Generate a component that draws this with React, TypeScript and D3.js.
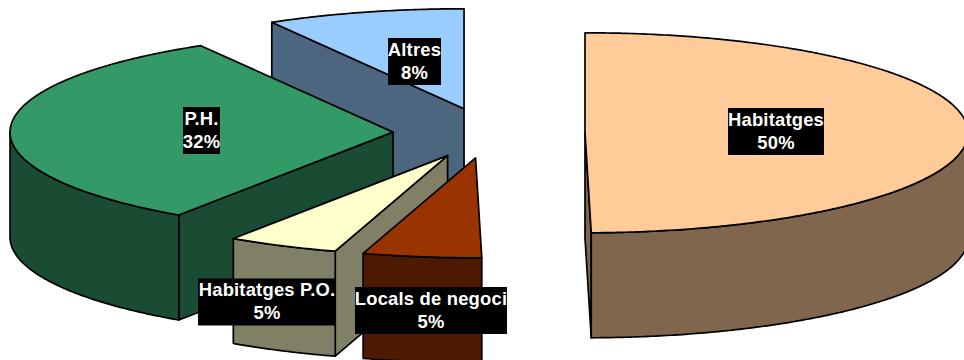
import React from "react";
import * as d3 from "d3";

// Data (clockwise from 12 o'clock)
const categories = ["Habitatges", "Locals de negoci", "Habitatges P.O.", "P.H.", "Altres"];
const shares = [49.74, 5.0, 4.71, 32.18, 8.37];
const percentLabels = ["50%", "5%", "5%", "32%", "8%"];
const topColors = ["#FFCC99", "#993300", "#FFFFCC", "#339966", "#99CCFF"];
const sideColors = ["#7F664C", "#4C1A00", "#808066", "#1A4C33", "#4C6680"];

// Layout
const WIDTH = 964;
const HEIGHT = 360;
const CX = 489;
const CY = 133;
const RX = 383;
const RY = 100;
const EXPLODE = 96;
const DEPTH = 105;
const drawOrder = [4, 3, 2, 1, 0];
const labelCenters: [number, number][] = [
  [776, 131.5],
  [431, 310.5],
  [267, 302],
  [201.5, 130.5],
  [414.5, 61.5],
];
const labelWidths = [96, 152, 138, 37, 53];
const LABEL_H = 47;

const xScale = d3.scaleLinear().domain([-1, 1]).range([CX - RX, CX + RX]);
const yScale = d3.scaleLinear().domain([-1, 1]).range([CY - RY, CY + RY]);

const pieGen = d3.pie<number>().sort(null).startAngle(0).endAngle(2 * Math.PI);
const lineGen = d3.line<[number, number]>();

function arcSamples(a: number, b: number, ox: number, oy: number, dy: number): [number, number][] {
  const n = Math.max(2, Math.ceil((b - a) / 0.01));
  return d3.range(n + 1).map((i) => {
    const t = a + ((b - a) * i) / n;
    return [xScale(Math.sin(t)) + ox, yScale(-Math.cos(t)) + oy + dy] as [number, number];
  });
}

export default function App() {
  const arcs = pieGen(shares);
  const stroke = { stroke: "#000", strokeWidth: 1.7, strokeLinejoin: "round" as const };
  const textStyle = {
    textAnchor: "middle" as const,
    fill: "#fff",
    fontFamily: "'Liberation Sans', Arial, sans-serif",
    fontWeight: "bold",
    fontSize: 18.4,
    letterSpacing: 0.2,
  };
  return (
    <svg
      width={WIDTH}
      height={HEIGHT}
      viewBox={`0 0 ${WIDTH} ${HEIGHT}`}
      style={{ position: "absolute", left: 0, top: 0, display: "block", background: "#fff" }}
    >
      {drawOrder.map((idx) => {
        const { startAngle: a, endAngle: b } = arcs[idx];
        const mid = (a + b) / 2;
        const ox = EXPLODE * Math.sin(mid);
        const oy = (-EXPLODE * Math.cos(mid) * RY) / RX;
        const apex: [number, number] = [CX + ox, CY + oy];
        const point = (t: number, dy: number): [number, number] => [
          xScale(Math.sin(t)) + ox,
          yScale(-Math.cos(t)) + oy + dy,
        ];
        const faces: [number, number][][] = [];
        if (Math.sin(a) < -1e-6) {
          faces.push([apex, point(a, 0), point(a, DEPTH), [apex[0], apex[1] + DEPTH]]);
        }
        if (Math.sin(b) > 1e-6) {
          faces.push([apex, point(b, 0), point(b, DEPTH), [apex[0], apex[1] + DEPTH]]);
        }
        const wallA = Math.max(a, Math.PI / 2);
        const wallB = Math.min(b, (3 * Math.PI) / 2);
        const wall =
          wallB > wallA
            ? [...arcSamples(wallA, wallB, ox, oy, 0), ...arcSamples(wallA, wallB, ox, oy, DEPTH).reverse()]
            : null;
        const top: [number, number][] = [apex, ...arcSamples(a, b, ox, oy, 0)];
        return (
          <g key={categories[idx]}>
            {faces.map((f, i) => (
              <path key={i} d={lineGen(f) + "Z"} fill={sideColors[idx]} {...stroke} />
            ))}
            {wall && <path d={lineGen(wall) + "Z"} fill={sideColors[idx]} {...stroke} />}
            <path d={lineGen(top) + "Z"} fill={topColors[idx]} {...stroke} />
          </g>
        );
      })}
      {categories.map((c, i) => {
        const [lx, ly] = labelCenters[i];
        const w = labelWidths[i];
        return (
          <g key={c}>
            <rect x={lx - w / 2} y={ly - LABEL_H / 2} width={w} height={LABEL_H} fill="#000" />
            <text x={lx} y={ly - 6} {...textStyle}>
              {c}
            </text>
            <text x={lx} y={ly + 17} {...textStyle}>
              {percentLabels[i]}
            </text>
          </g>
        );
      })}
    </svg>
  );
}
